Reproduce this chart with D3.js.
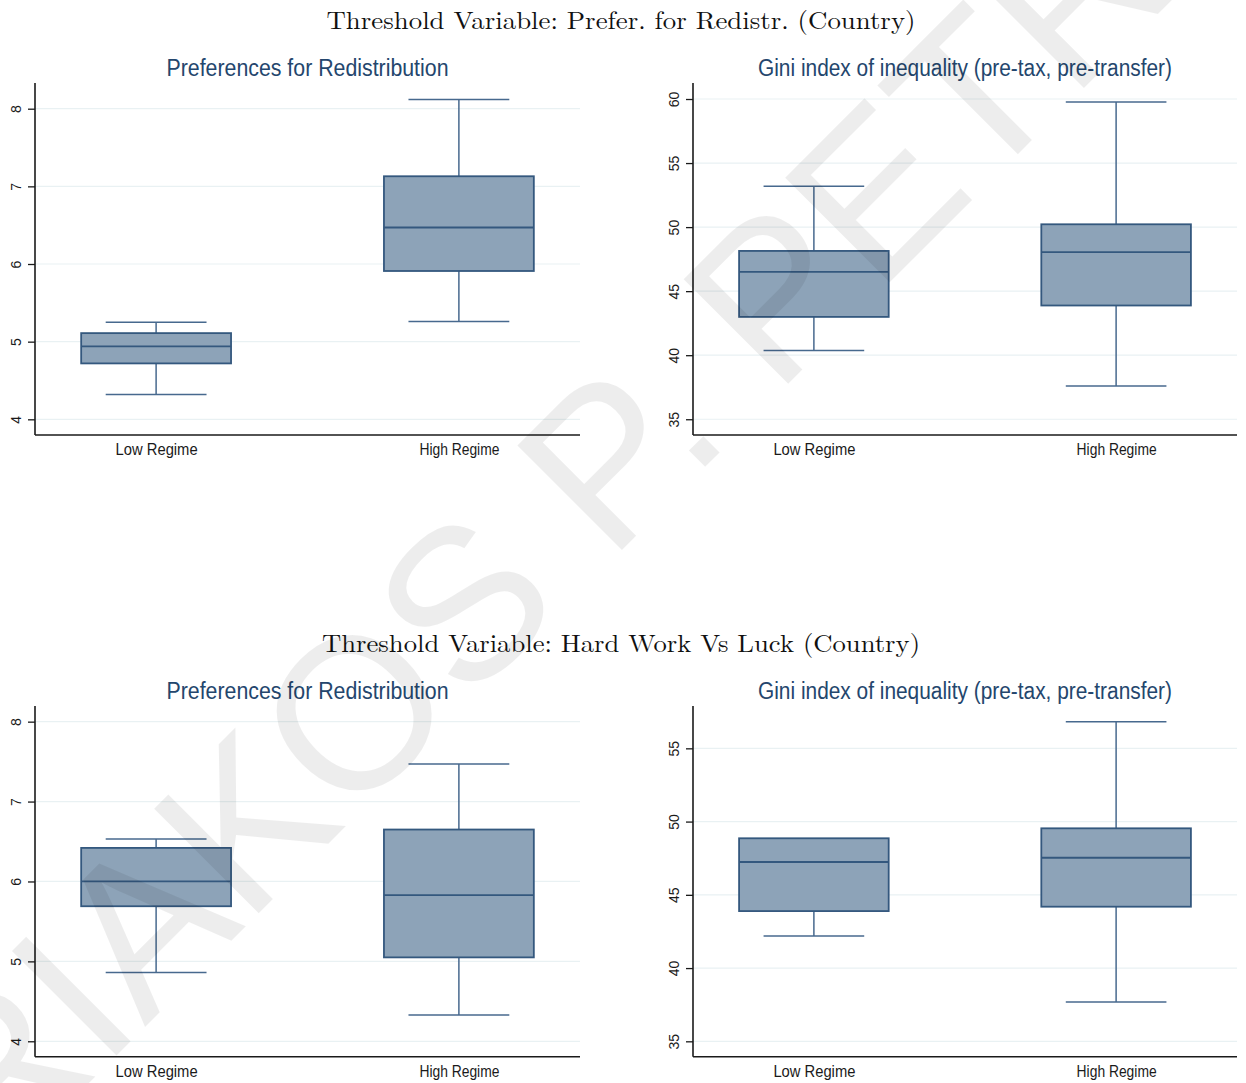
<!DOCTYPE html>
<html>
<head>
<meta charset="utf-8">
<script src="https://cdn.jsdelivr.net/npm/d3@7"></script>
<style>
  html, body { margin: 0; padding: 0; background: #fff; }
  svg { display: block; }
</style>
</head>
<body>
<svg id="chart" width="1246" height="1083"></svg>
<script>
// Categories on the x axis of every panel
const regimes = ["Low Regime", "High Regime"];

// Box summaries per regime: [lower adjacent, Q1, median, Q3, upper adjacent]
const prefRedistByPrefer = [
  [4.32, 4.72, 4.94, 5.11, 5.25],
  [5.26, 5.91, 6.47, 7.13, 8.12]
];
const giniByPrefer = [
  [40.36, 42.99, 46.50, 48.14, 53.19],
  [37.60, 43.88, 48.04, 50.22, 59.77]
];
const prefRedistByLuck = [
  [4.86, 5.69, 6.00, 6.42, 6.53],
  [4.33, 5.05, 5.83, 6.65, 7.47]
];
const giniByLuck = [
  [42.19, 43.89, 47.24, 48.86, 48.86],
  [37.68, 44.19, 47.53, 49.54, 56.82]
];

// Tick values
const prefTicks = [4, 5, 6, 7, 8];
const giniTicksPrefer = [35, 40, 45, 50, 55, 60];
const giniTicksLuck = [35, 40, 45, 50, 55];

// Titles
const groupTitles = [
  "Threshold Variable: Prefer. for Redistr. (Country)",
  "Threshold Variable: Hard Work Vs Luck (Country)"
];
const prefTitle = "Preferences for Redistribution";
const giniTitle = "Gini index of inequality (pre-tax, pre-transfer)";
const watermarkText = "KYRIAKOS P. PETROPOULOS";

const svg = d3.select("#chart");

const C = {
  fill: "#8da3b8",
  edge: "#34587e",
  whisker: "#47698e",
  grid: "#e9f1f3",
  axis: "#1a1a1a",
  sub: "#24466d",
  text: "#1a1a1a"
};

const sans = "'Liberation Sans',Arial,sans-serif";

// Group titles (serif, centred on the page)
const titleLayout = [
  { y: 29, len: 589 },
  { y: 652, len: 598 }
];
groupTitles.forEach((t, i) => {
  svg.append("text")
    .attr("x", 621).attr("y", titleLayout[i].y)
    .attr("text-anchor", "middle")
    .attr("font-family", "'Latin Modern Roman','Liberation Serif','DejaVu Serif',serif")
    .attr("font-size", 25)
    .attr("textLength", titleLayout[i].len)
    .attr("lengthAdjust", "spacingAndGlyphs")
    .attr("fill", "#111")
    .text(t);
});

const panels = [
  { title: prefTitle, titleLen: 282, data: prefRedistByPrefer, ticks: prefTicks,
    x0: 35, x1: 580, top: 83, bottom: 435, domain: [3.798, 8.331] },
  { title: giniTitle, titleLen: 414, data: giniByPrefer, ticks: giniTicksPrefer,
    x0: 693, x1: 1237, top: 83, bottom: 435, domain: [33.77, 61.25] },
  { title: prefTitle, titleLen: 282, data: prefRedistByLuck, ticks: prefTicks,
    x0: 35, x1: 580, top: 706, bottom: 1056.7, domain: [3.807, 8.196] },
  { title: giniTitle, titleLen: 414, data: giniByLuck, ticks: giniTicksLuck,
    x0: 693, x1: 1237, top: 706, bottom: 1056.7, domain: [33.95, 57.89] }
];

// condensed widths of the category labels
const labelLen = { "Low Regime": 82, "High Regime": 80 };

panels.forEach(p => {
  const g = svg.append("g");
  const y = d3.scaleLinear().domain(p.domain).range([p.bottom, p.top]);
  const x = d3.scalePoint().domain(regimes).range([p.x0, p.x1]).padding(0.4);
  const step = x.step();
  const boxW = step * 0.495;
  const capW = step * 0.333;

  // horizontal grid lines
  g.append("g").selectAll("line").data(p.ticks).join("line")
    .attr("x1", p.x0).attr("x2", p.x1)
    .attr("y1", d => y(d)).attr("y2", d => y(d))
    .attr("stroke", C.grid).attr("stroke-width", 1.2);

  // panel title
  g.append("text")
    .attr("x", (p.x0 + p.x1) / 2).attr("y", p.top - 7)
    .attr("text-anchor", "middle")
    .attr("font-family", sans)
    .attr("font-size", 23)
    .attr("textLength", p.titleLen)
    .attr("lengthAdjust", "spacingAndGlyphs")
    .attr("fill", C.sub)
    .text(p.title);

  // boxes
  const boxes = g.append("g").selectAll("g").data(p.data).join("g")
    .attr("transform", (d, i) => `translate(${x(regimes[i])},0)`);

  // whisker stems
  boxes.append("line")
    .attr("x1", 0).attr("x2", 0)
    .attr("y1", d => y(d[4])).attr("y2", d => y(d[3]))
    .attr("stroke", C.whisker).attr("stroke-width", 1.5);
  boxes.append("line")
    .attr("x1", 0).attr("x2", 0)
    .attr("y1", d => y(d[1])).attr("y2", d => y(d[0]))
    .attr("stroke", C.whisker).attr("stroke-width", 1.5);
  // whisker caps (skipped where the adjacent value meets the box)
  boxes.filter(d => d[4] > d[3]).append("line")
    .attr("x1", -capW / 2).attr("x2", capW / 2)
    .attr("y1", d => y(d[4])).attr("y2", d => y(d[4]))
    .attr("stroke", C.whisker).attr("stroke-width", 1.5);
  boxes.filter(d => d[0] < d[1]).append("line")
    .attr("x1", -capW / 2).attr("x2", capW / 2)
    .attr("y1", d => y(d[0])).attr("y2", d => y(d[0]))
    .attr("stroke", C.whisker).attr("stroke-width", 1.5);

  // interquartile box
  boxes.append("rect")
    .attr("x", -boxW / 2).attr("width", boxW)
    .attr("y", d => y(d[3])).attr("height", d => y(d[1]) - y(d[3]))
    .attr("fill", C.fill).attr("stroke", C.edge).attr("stroke-width", 1.8);
  // median
  boxes.append("line")
    .attr("x1", -boxW / 2).attr("x2", boxW / 2)
    .attr("y1", d => y(d[2])).attr("y2", d => y(d[2]))
    .attr("stroke", C.edge).attr("stroke-width", 1.8);

  // y axis
  const yAxis = d3.axisLeft(y).tickValues(p.ticks).tickSize(7).tickPadding(0).tickFormat(d3.format("d"));
  const ya = g.append("g").attr("transform", `translate(${p.x0},0)`).call(yAxis);
  ya.select(".domain").remove();
  ya.selectAll(".tick line").attr("stroke", C.axis).attr("stroke-width", 1.3);
  ya.selectAll(".tick text")
    .attr("x", 0).attr("dy", null).attr("y", 0)
    .attr("transform", "translate(-19,0) rotate(-90)")
    .attr("text-anchor", "middle")
    .attr("dominant-baseline", "central")
    .attr("font-family", sans)
    .attr("font-size", 14)
    .attr("fill", C.text);
  g.append("line")
    .attr("x1", p.x0).attr("x2", p.x0)
    .attr("y1", p.top).attr("y2", p.bottom)
    .attr("stroke", C.axis).attr("stroke-width", 1.6);

  // x axis
  const xAxis = d3.axisBottom(x).tickSize(0).tickPadding(0);
  const xa = g.append("g").attr("transform", `translate(0,${p.bottom})`).call(xAxis);
  xa.select(".domain").remove();
  xa.selectAll(".tick text")
    .attr("y", 20).attr("dy", null)
    .attr("font-family", sans)
    .attr("font-size", 16)
    .attr("textLength", d => labelLen[d])
    .attr("lengthAdjust", "spacingAndGlyphs")
    .attr("fill", C.text);
  g.append("line")
    .attr("x1", p.x0).attr("x2", p.x1)
    .attr("y1", p.bottom).attr("y2", p.bottom)
    .attr("stroke", C.axis).attr("stroke-width", 1.6);
});

// Diagonal watermark across the page
svg.append("text")
  .attr("transform", "translate(-210,1382) rotate(-45)")
  .attr("text-anchor", "start")
  .attr("font-family", sans)
  .attr("font-size", 215)
  .attr("fill", "#000")
  .attr("fill-opacity", 0.07)
  .text(watermarkText);
</script>
</body>
</html>
